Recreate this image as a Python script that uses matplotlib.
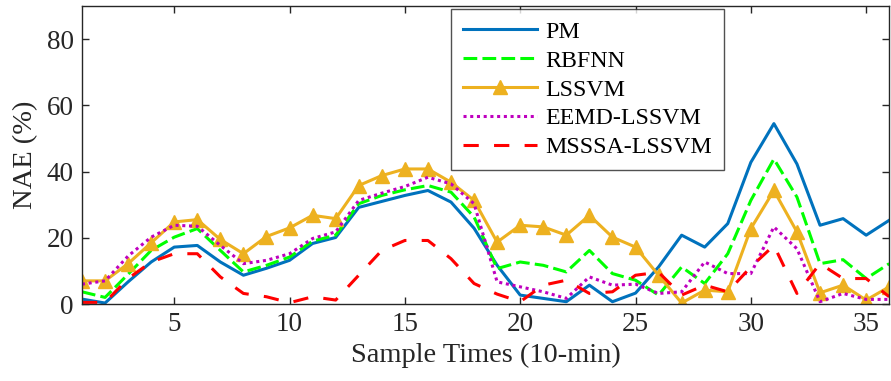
import matplotlib
matplotlib.use("Agg")
import matplotlib.pyplot as plt
import numpy as np

x = list(range(1, 37))
pm = [1.5, 0.3, 6.7, 12.7, 17.2, 17.7, 12.7, 8.7, 10.8, 13.2, 18.3, 20.1, 29.2, 31.0, 32.8, 34.3,
      30.8, 22.9, 11.7, 2.7, 1.7, 0.7, 5.7, 0.7, 3.3, 11.2, 20.8, 17.2, 24.3, 42.8, 54.5, 42.3,
      23.8, 25.8, 20.8, 25.3]
rbfnn = [3.7, 2.0, 9.0, 16.2, 20.2, 22.8, 16.2, 9.7, 11.7, 14.2, 19.0, 20.8, 30.3, 32.8, 34.5, 35.8,
         33.8, 26.3, 10.7, 12.7, 11.7, 9.7, 16.2, 9.2, 7.2, 2.7, 11.2, 6.2, 15.2, 31.3, 43.8, 32.3,
         12.2, 13.4, 7.7, 12.2]
lssvm = [7.0, 7.0, 12.2, 18.5, 24.8, 25.5, 19.5, 15.2, 20.4, 23.0, 26.8, 25.8, 35.8, 38.8, 40.8, 40.8,
         36.8, 31.3, 18.7, 23.8, 23.3, 20.8, 26.8, 20.2, 17.2, 8.7, 0.3, 4.2, 3.7, 22.8, 34.3, 21.8,
         3.4, 5.7, 1.2, 5.2]
eemd = [6.0, 7.0, 14.5, 20.2, 23.8, 23.5, 17.7, 12.2, 13.2, 15.2, 19.8, 21.8, 31.3, 33.5, 35.5, 38.3,
        36.3, 30.3, 6.7, 5.2, 3.7, 1.7, 8.2, 5.7, 6.0, 3.2, 3.7, 12.7, 9.2, 9.2, 23.3, 16.7,
        0.7, 3.2, 1.4, 1.4]
msssa = [0.5, 0.5, 7.7, 12.7, 15.2, 15.2, 8.2, 3.2, 2.2, 0.4, 2.2, 1.2, 8.7, 16.2, 19.2, 19.2,
         13.7, 6.2, 3.0, 0.7, 5.7, 7.2, 3.2, 3.7, 8.7, 9.6, 2.7, 5.7, 3.7, 11.2, 17.7, 3.2,
         12.2, 7.7, 7.7, 2.2]
labels = ["PM", "RBFNN", "LSSVM", "EEMD-LSSVM", "MSSSA-LSSVM"]

plt.rcParams['font.family'] = ['Liberation Serif', 'DejaVu Serif']
fig = plt.figure(figsize=(8.91, 3.81), dpi=100)
ax = fig.add_axes([0.092, 0.202, 0.906, 0.782])

lw = 2.2
ax.plot(x, pm, color='#0072BD', lw=lw, label=labels[0])
ax.plot(x, rbfnn, color='#00FF00', lw=lw, ls=(0, (4.5, 1.7)), label=labels[1])
ax.plot(x, lssvm, color='#EDB120', lw=lw, marker='^', markersize=10, label=labels[2])
ax.plot(x, eemd, color='#BF00BF', lw=lw, ls=(0, (1, 1.2)), label=labels[3])
ax.plot(x, msssa, color='#FF0000', lw=lw, ls=(0, (5, 5)), label=labels[4])

ax.set_xlim(1, 36)
ax.set_ylim(0, 90)
ax.set_xticks([5, 10, 15, 20, 25, 30, 35])
ax.set_yticks([0, 20, 40, 60, 80])
ax.tick_params(direction='in', top=True, right=True, labelsize=19.5, colors='#262626',
               length=5, width=1, pad=6)
for s in ax.spines.values():
    s.set_color('#262626')
    s.set_linewidth(1)
ax.set_xlabel("Sample Times (10-min)", fontsize=20.5, color='#262626', labelpad=4)
ax.set_ylabel("NAE (%)", fontsize=20.5, color='#262626', labelpad=6)

leg = ax.legend(loc='upper left', bbox_to_anchor=(0.457, 0.99), borderaxespad=0,
                fontsize=17.2, frameon=True, fancybox=False, edgecolor='#262626',
                handlelength=3.1, borderpad=0.5, labelspacing=0.3, handletextpad=0.35)
leg.get_frame().set_linewidth(1)

fig.savefig("out.png", dpi=100)
